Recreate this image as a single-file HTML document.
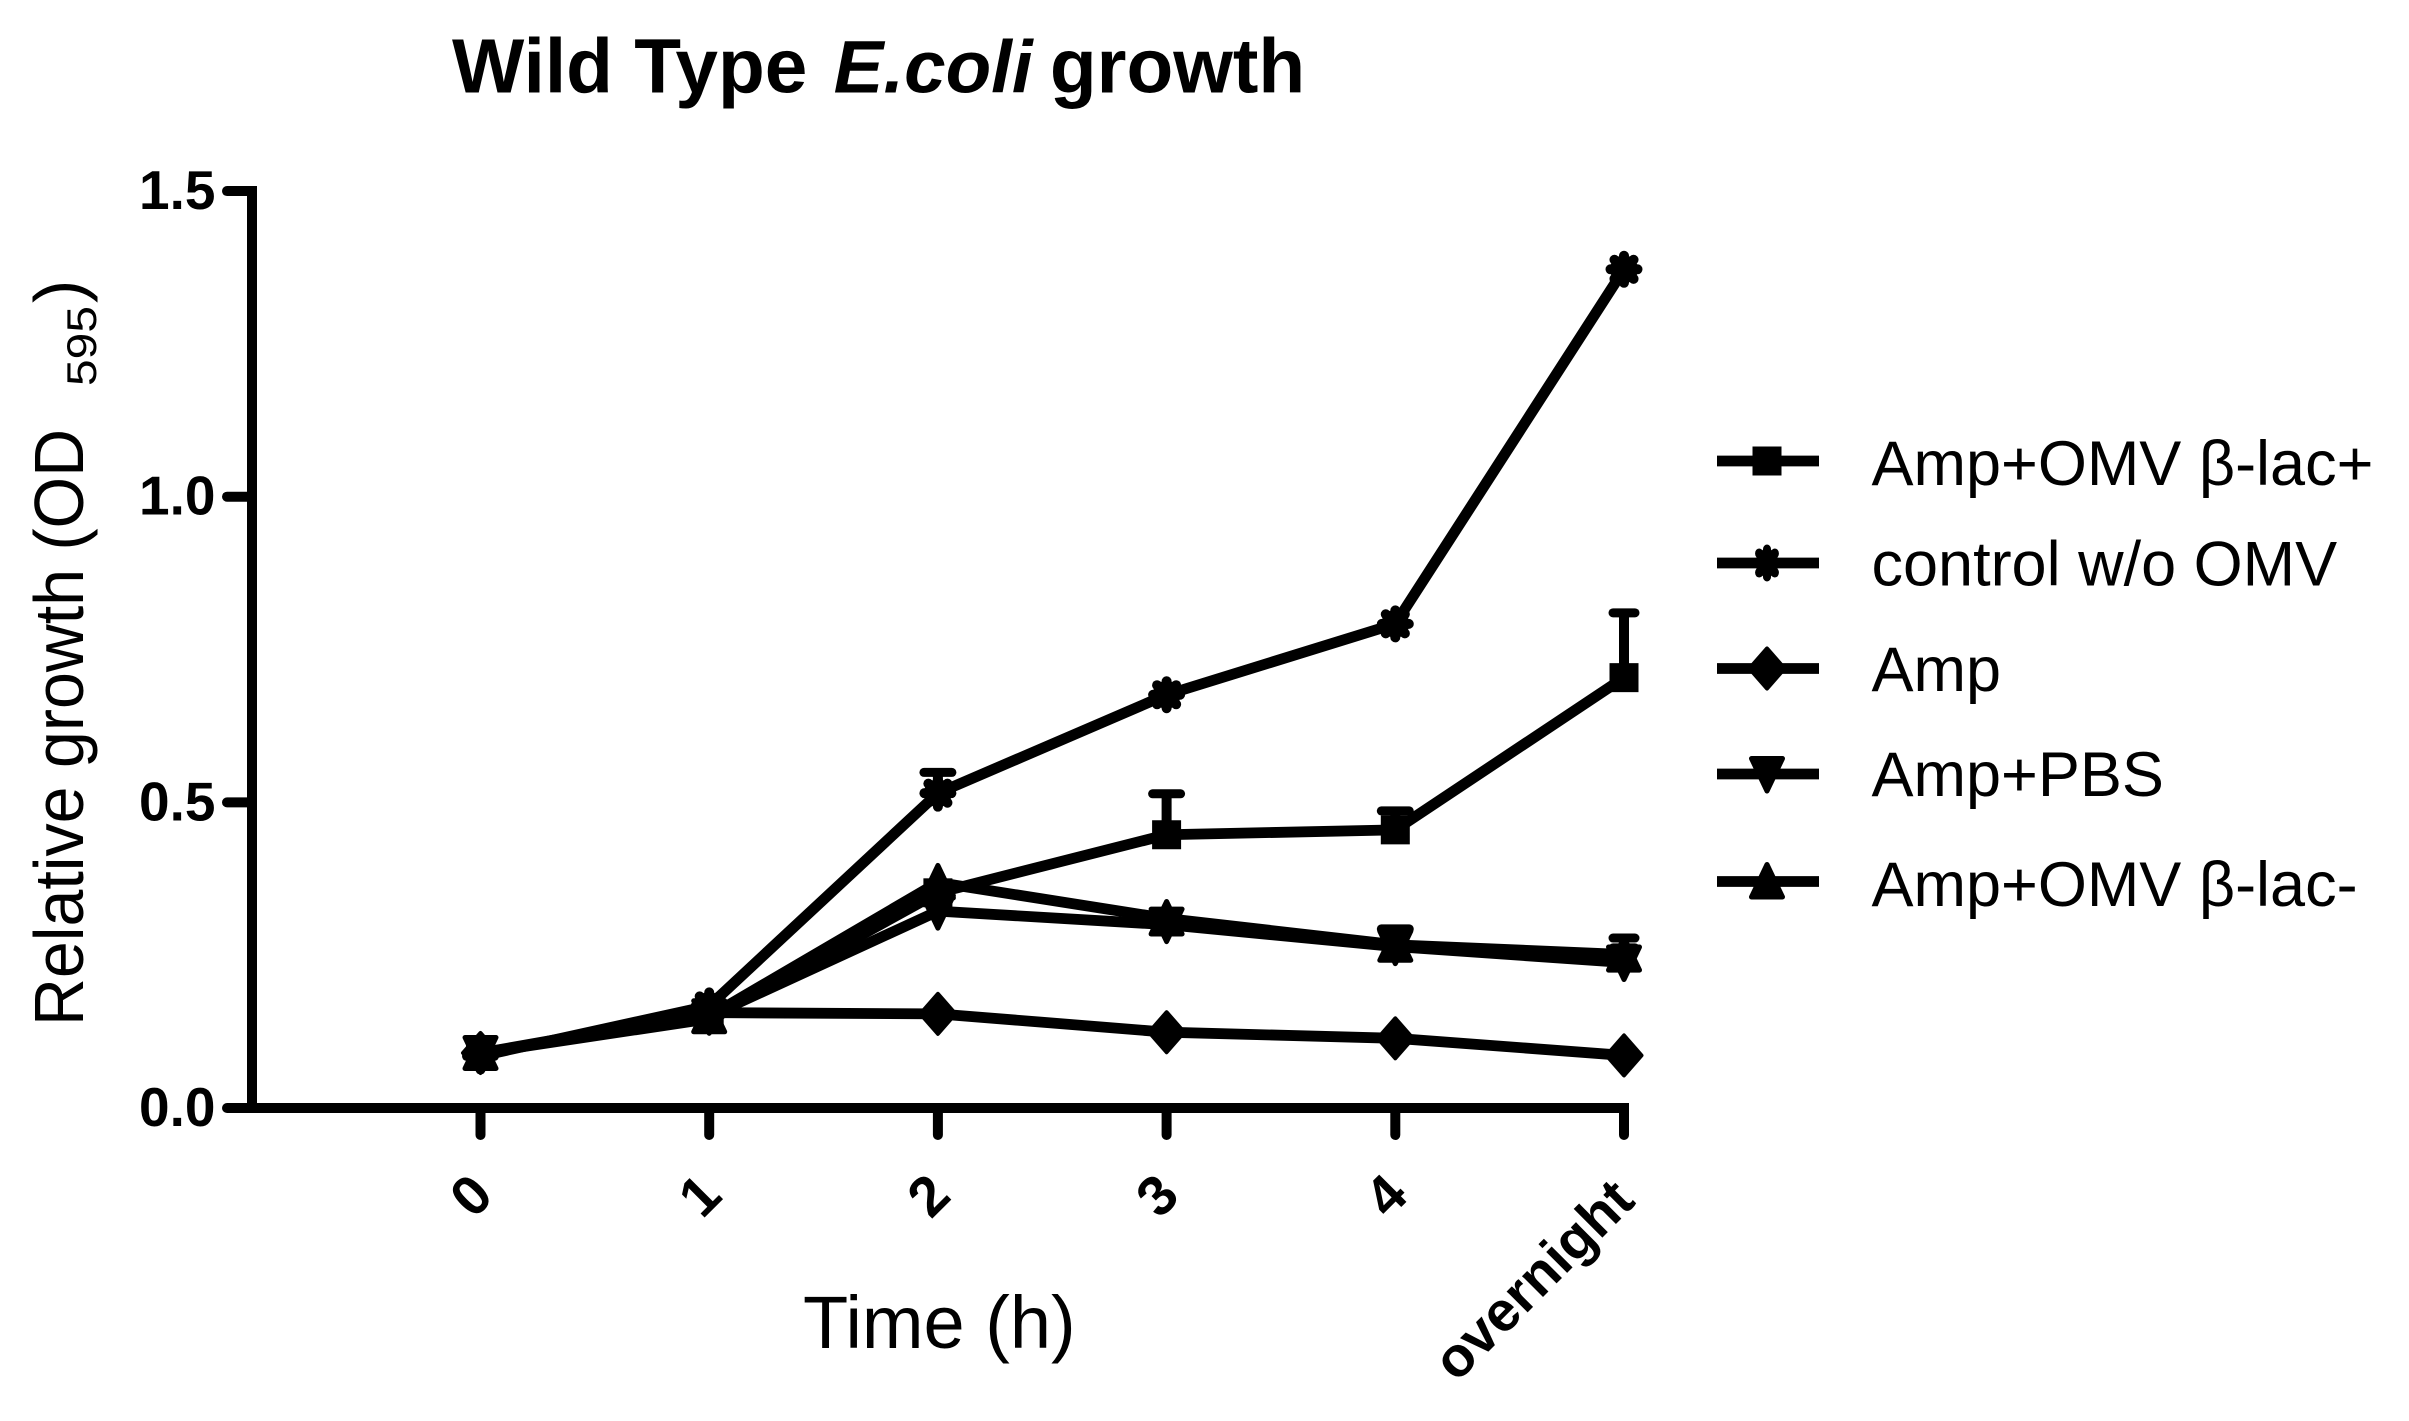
<!DOCTYPE html>
<html lang="en">
<head>
<meta charset="utf-8">
<title>Wild Type E.coli growth</title>
<style>
html,body{margin:0;padding:0;background:#fff;}
svg{display:block;font-family:"Liberation Sans",sans-serif;}
text{fill:#000;}
</style>
</head>
<body>
<svg id="chart" xmlns="http://www.w3.org/2000/svg" width="2409" height="1421" viewBox="0 0 2409 1421">
  <rect x="0" y="0" width="2409" height="1421" fill="#fff"/>
  <text x="452" y="92.6" font-size="76.6" font-weight="bold">Wild Type <tspan font-style="italic" dx="5" font-size="74.6">E.coli</tspan><tspan dx="-4"> growth</tspan></text>
  <text transform="translate(83 1026) rotate(-90)" font-size="70" textLength="597" lengthAdjust="spacingAndGlyphs">Relative growth (OD</text>
  <text transform="translate(96 386) rotate(-90)" font-size="42" textLength="80" lengthAdjust="spacingAndGlyphs">595</text>
  <text transform="translate(83 303) rotate(-90)" font-size="70">)</text>
  <text x="803" y="1348" font-size="74">Time (h)</text>
  <g id="axes"></g>
  <g id="series"></g>
  <g id="legend"></g>
</svg>
<script>
const categories = ["0", "1", "2", "3", "4", "overnight"];
const yTickValues = [0, 0.5, 1.0, 1.5];
const yTickLabels = ["0.0", "0.5", "1.0", "1.5"];
const seriesNames = ["Amp+OMV β-lac+", "control w/o OMV", "Amp", "Amp+PBS", "Amp+OMV β-lac-"];
const seriesShapes = ["square", "flower", "diamond", "down", "up"];
const ampOmvLacPlus = [0.09, 0.146, 0.352, 0.447, 0.455, 0.704];
const controlNoOmv = [0.085, 0.167, 0.515, 0.676, 0.792, 1.372];
const ampOnly = [0.09, 0.156, 0.154, 0.124, 0.114, 0.086];
const ampPbs = [0.09, 0.15, 0.322, 0.30, 0.264, 0.238];
const ampOmvLacMinus = [0.09, 0.15, 0.369, 0.31, 0.267, 0.251];
const ampOmvLacPlusUpper = [null, null, null, 0.514, 0.486, 0.81];
const controlNoOmvUpper = [null, null, 0.549, null, null, null];
const ampPbsUpper = [null, null, null, null, null, 0.262];
const ampOmvLacMinusUpper = [null, null, null, null, 0.293, 0.278];

const NS = "http://www.w3.org/2000/svg";
const axesG = document.getElementById("axes");
const seriesG = document.getElementById("series");
const legendG = document.getElementById("legend");
const allValues = [ampOmvLacPlus, controlNoOmv, ampOnly, ampPbs, ampOmvLacMinus];
const allUpper = [ampOmvLacPlusUpper, controlNoOmvUpper, null, ampPbsUpper, ampOmvLacMinusUpper];

function xPos(i) { return 480.5 + i * 228.7; }
function yPos(v) { return 1108 - 611.3 * v; }

function make(tag, attrs, parent) {
  const el = document.createElementNS(NS, tag);
  for (const k in attrs) el.setAttribute(k, attrs[k]);
  parent.appendChild(el);
  return el;
}

function drawMarker(shape, cx, cy, parent, squeeze) {
  const tf = "translate(" + cx + " " + cy + ")" + (squeeze && shape === "flower" ? " scale(0.82 1)" : "");
  const g = make("g", { transform: tf, fill: "#000", stroke: "none" }, parent);
  if (shape === "square") {
    make("rect", { x: -14.5, y: -14.5, width: 29, height: 29 }, g);
  } else if (shape === "diamond") {
    make("polygon", { points: "0,-20 17.5,0 0,20 -17.5,0", stroke: "#000", "stroke-width": 4, "stroke-linejoin": "round" }, g);
  } else if (shape === "down") {
    make("polygon", { points: "-15.5,-15.5 15.5,-15.5 0,17", stroke: "#000", "stroke-width": 5, "stroke-linejoin": "round" }, g);
  } else if (shape === "up") {
    make("polygon", { points: "-15.5,15.5 15.5,15.5 0,-17", stroke: "#000", "stroke-width": 5, "stroke-linejoin": "round" }, g);
  } else {
    make("circle", { cx: 0, cy: 0, r: 14 }, g);
    for (let a = 0; a < 8; a++) {
      const t = a * Math.PI / 4;
      make("circle", { cx: 13.5 * Math.cos(t), cy: 13.5 * Math.sin(t), r: 5 }, g);
    }
  }
  return g;
}

/* axes */
const yLine = make("line", { x1: 252, y1: yPos(1.5) - 5, x2: 252, y2: yPos(0) + 5, stroke: "#000", "stroke-width": 10 }, axesG);


const xLine = make("line", { x1: 247, y1: yPos(0), x2: xPos(5) + 5, y2: yPos(0), stroke: "#000", "stroke-width": 10 }, axesG);



yTickValues.forEach(function (v, i) {
  const t = make("line", { x1: 227, y1: yPos(v), x2: 250, y2: yPos(v), stroke: "#000", "stroke-width": 10, "stroke-linecap": "round" }, axesG);
  
  
  const l = make("text", { x: 215.5, y: yPos(v) + 18, "font-size": 55, "font-weight": "bold", "text-anchor": "end" }, axesG);
  l.textContent = yTickLabels[i];
  
  
});

categories.forEach(function (c, i) {
  const x = xPos(i);
  const t = make("line", { x1: x, y1: yPos(0), x2: x, y2: yPos(0) + 27, stroke: "#000", "stroke-width": 10, "stroke-linecap": "round" }, axesG);
  
  
  const isWord = c.length > 1;
  const lx = x + (isWord ? 13 : 15);
  const ly = isWord ? 1203 : 1198;
  const l = make("text", { x: lx, y: ly, "font-size": 56, "font-weight": "bold", "text-anchor": "end", transform: "rotate(-45 " + lx + " " + ly + ")" }, axesG);
  l.textContent = c;
  
  
});

/* series */
allValues.forEach(function (vals, s) {
  const g = make("g", {}, seriesG);
  
  
  const upper = allUpper[s];
  if (upper) {
    upper.forEach(function (u, i) {
      if (u === null) return;
      const x = xPos(i);
      const half = i === 5 ? 11 : 14;
      const bar = make("line", { x1: x, y1: yPos(vals[i]), x2: x, y2: yPos(u), stroke: "#000", "stroke-width": 10 }, g);
      
      
      const cap = make("line", { x1: x - half, y1: yPos(u), x2: x + half, y2: yPos(u), stroke: "#000", "stroke-width": 9, "stroke-linecap": "round" }, g);
      
      
    });
  }
  const pts = vals.map(function (v, i) { return xPos(i) + "," + yPos(v); }).join(" ");
  const line = make("polyline", { points: pts, fill: "none", stroke: "#000", "stroke-width": 10.8, "stroke-linejoin": "round" }, g);
  
  
  vals.forEach(function (v, i) {
    const m = drawMarker(seriesShapes[s], xPos(i), yPos(v), g, false);
    
    
  });
});

/* legend */
const legendRowY = [461, 563, 668.5, 774, 881.5];
const legendBaseline = [485, 585.7, 691, 796, 906];
seriesNames.forEach(function (n, i) {
  const g = make("g", {}, legendG);
  
  
  const sw = make("line", { x1: 1717, y1: legendRowY[i], x2: 1819, y2: legendRowY[i], stroke: "#000", "stroke-width": 10.8 }, g);
  
  
  const m = drawMarker(seriesShapes[i], 1767, legendRowY[i], g, true);
  
  
  const t = make("text", { x: 1871.5, y: legendBaseline[i], "font-size": 63 }, g);
  t.textContent = n;
  
  
});
</script>
</body>
</html>
